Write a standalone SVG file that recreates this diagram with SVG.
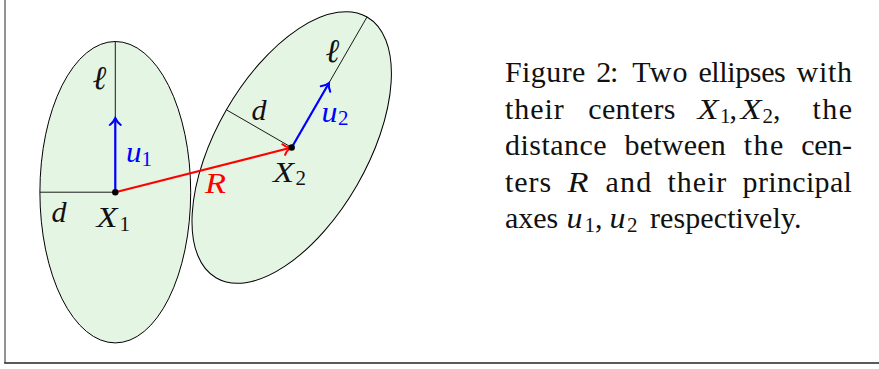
<svg xmlns="http://www.w3.org/2000/svg" width="879" height="369" viewBox="0 0 879 369">
<style>
.ell{fill:#e4f5e4;stroke:#000;stroke-width:1}
.ax{stroke:#000;stroke-width:0.9;fill:none}
.t{font-family:"Liberation Serif","Times New Roman",serif;font-size:30px;fill:#111}
.m{font-family:"Liberation Serif","Times New Roman",serif;font-size:30px;font-style:italic;fill:#111}
.l{font-family:"Liberation Serif","DejaVu Serif",serif;font-size:33px;font-style:italic;fill:#111}
.s{font-family:"Liberation Serif","Times New Roman",serif;font-size:21px;fill:#111}
.blue{fill:#0000ff}
.red{fill:#ff0000}
</style>
<defs>
<marker id="tipB" viewBox="-10 -8 12 16" refX="0" refY="0" markerWidth="12" markerHeight="16" markerUnits="userSpaceOnUse" orient="auto">
<path d="M-7,-5.5 C-5,-2.5 -1.8,-0.8 0,0 C-1.8,0.8 -5,2.5 -7,5.5" fill="none" stroke="#0000ff" stroke-width="2" stroke-linecap="round"/>
</marker>
<marker id="tipR" viewBox="-10 -8 12 16" refX="0" refY="0" markerWidth="12" markerHeight="16" markerUnits="userSpaceOnUse" orient="auto">
<path d="M-7,-5.5 C-5,-2.5 -1.8,-0.8 0,0 C-1.8,0.8 -5,2.5 -7,5.5" fill="none" stroke="#ff0000" stroke-width="2" stroke-linecap="round"/>
</marker>
</defs>
<rect x="0" y="0" width="879" height="369" fill="#fff"/>
<g id="frame">
<line x1="5" y1="0" x2="5" y2="363" stroke="#777" stroke-width="1.6"/>
<line x1="4.2" y1="363" x2="879" y2="363" stroke="#222" stroke-width="1.5"/>
</g>
<g id="ellipse1">
<ellipse class="ell" cx="115.3" cy="192.2" rx="75.4" ry="150.7"/>
<line class="ax" x1="115.3" y1="192.2" x2="115.3" y2="41.5"/>
<line class="ax" x1="115.3" y1="192.2" x2="39.9" y2="192.2"/>
<text class="l" x="92.5" y="89">ℓ</text>
<text class="m" x="51.5" y="221.5">d</text>
<text class="m" x="96.5" y="226.5" textLength="21" lengthAdjust="spacingAndGlyphs">X</text><text class="s" x="119.5" y="230.5">1</text>
<text class="m blue" x="126" y="161.5" textLength="15.5" lengthAdjust="spacingAndGlyphs">u</text><text class="s blue" x="141.5" y="165.5">1</text>
</g>
<g id="ellipse2">
<ellipse class="ell" cx="0" cy="0" rx="75.4" ry="150.7" transform="translate(291.7,147.5) rotate(30)"/>
<line class="ax" x1="291.7" y1="147.5" x2="367" y2="17"/>
<line class="ax" x1="291.7" y1="147.5" x2="226.4" y2="109.8"/>
<text class="l" x="325.5" y="61.5">ℓ</text>
<text class="m" x="251.5" y="120">d</text>
<text class="m" x="273" y="181.5" textLength="21" lengthAdjust="spacingAndGlyphs">X</text><text class="s" x="295.5" y="185">2</text>
<text class="m blue" x="321.5" y="121.5" textLength="16" lengthAdjust="spacingAndGlyphs">u</text><text class="s blue" x="338" y="125">2</text>
</g>
<g id="connectors">
<line x1="115.3" y1="192.2" x2="115.3" y2="118" stroke="#0000ff" stroke-width="2.2" marker-end="url(#tipB)"/>
<line x1="291.7" y1="147.5" x2="329" y2="83" stroke="#0000ff" stroke-width="2.2" marker-end="url(#tipB)"/>
<line x1="115.3" y1="192.2" x2="290.5" y2="147.8" stroke="#ff0000" stroke-width="2.2" marker-end="url(#tipR)"/>
<text class="m red" x="205" y="192.5" textLength="21" lengthAdjust="spacingAndGlyphs">R</text>
<circle cx="115.3" cy="192.2" r="3.2" fill="#000"/>
<circle cx="291.7" cy="147.5" r="3.2" fill="#000"/>
</g>
<g id="caption">
<text class="t" x="505" y="82" textLength="80.4" lengthAdjust="spacing">Figure</text>
<text class="t" x="596.2" y="82" textLength="22.2" lengthAdjust="spacing">2:</text>
<text class="t" x="632.2" y="82" textLength="55.4" lengthAdjust="spacing">Two</text>
<text class="t" x="698.4" y="82" textLength="87.4" lengthAdjust="spacing">ellipses</text>
<text class="t" x="796.6" y="82" textLength="55.4" lengthAdjust="spacing">with</text>

<text class="t" x="505" y="118.5" textLength="58.7" lengthAdjust="spacing">their</text>
<text class="t" x="588.2" y="118.5" textLength="87.3" lengthAdjust="spacing">centers</text>
<text class="m" x="697.5" y="118.5" textLength="21" lengthAdjust="spacingAndGlyphs">X</text><text class="s" x="720" y="122.8">1</text><text class="t" x="729.5" y="118.5">,</text>
<text class="m" x="740.5" y="118.5" textLength="21" lengthAdjust="spacingAndGlyphs">X</text><text class="s" x="762.5" y="122.8">2</text><text class="t" x="773" y="118.5">,</text>
<text class="t" x="812.4" y="118.5" textLength="39.6" lengthAdjust="spacing">the</text>

<text class="t" x="505" y="155" textLength="101.5" lengthAdjust="spacing">distance</text>
<text class="t" x="624.5" y="155" textLength="101.3" lengthAdjust="spacing">between</text>
<text class="t" x="743.8" y="155" textLength="39.6" lengthAdjust="spacing">the</text>
<text class="t" x="801.3" y="155" textLength="50.7" lengthAdjust="spacing">cen-</text>

<text class="t" x="505" y="191.5" textLength="46.2" lengthAdjust="spacing">ters</text>
<text class="m" x="567.5" y="191.5" textLength="21" lengthAdjust="spacingAndGlyphs">R</text>
<text class="t" x="605.4" y="191.5" textLength="45.9" lengthAdjust="spacing">and</text>
<text class="t" x="667.6" y="191.5" textLength="58.7" lengthAdjust="spacing">their</text>
<text class="t" x="742.6" y="191.5" textLength="109.3" lengthAdjust="spacing">principal</text>

<text class="t" x="505" y="228" textLength="53.2" lengthAdjust="spacing">axes</text>
<text class="m" x="566.5" y="228" textLength="16" lengthAdjust="spacingAndGlyphs">u</text><text class="s" x="584.5" y="232.3">1</text><text class="t" x="595" y="228">,</text>
<text class="m" x="609.5" y="228" textLength="16" lengthAdjust="spacingAndGlyphs">u</text><text class="s" x="627" y="232.3">2</text>
<text class="t" x="650" y="228" textLength="151.5" lengthAdjust="spacing">respectively.</text>
</g>
</svg>
